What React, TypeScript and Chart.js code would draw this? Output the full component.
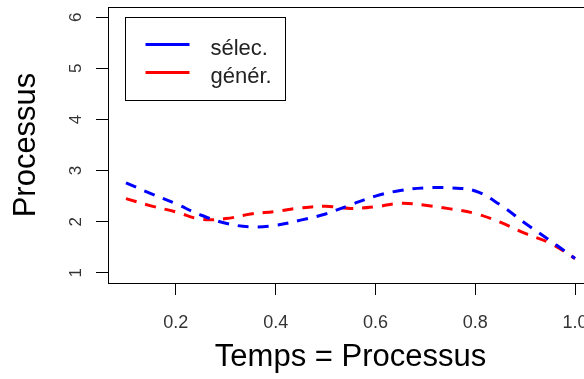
import React, { useEffect, useRef } from "react";
import { Chart, registerables } from "chart.js";

Chart.register(...registerables);

// ---- data ----
const times = [0.1, 0.15, 0.2, 0.25, 0.3, 0.35, 0.4, 0.45, 0.5, 0.55, 0.6, 0.65, 0.7, 0.75, 0.8, 0.85, 0.9, 0.95, 1.0];
const selec = [2.76, 2.55, 2.35, 2.13, 1.97, 1.9, 1.93, 2.03, 2.15, 2.33, 2.5, 2.61, 2.66, 2.66, 2.6, 2.33, 1.97, 1.63, 1.28];
const gener = [2.45, 2.31, 2.19, 2.05, 2.06, 2.15, 2.2, 2.27, 2.3, 2.26, 2.29, 2.36, 2.32, 2.25, 2.16, 1.99, 1.77, 1.58, 1.28];
const seriesLabels = ["sélec.", "génér."];
const seriesColors = ["#0000FF", "#FF0000"];
const xTickValues = [0.2, 0.4, 0.6, 0.8, 1.0];
const yTickValues = [1, 2, 3, 4, 5, 6];
const xTitle = "Temps = Processus";
const yTitle = "Processus";

const FONT = "'Liberation Sans', Arial, Helvetica, sans-serif";

const framePlugin = {
  id: "frame",
  afterDraw(chart: any) {
    const { ctx, chartArea: a } = chart;
    ctx.save();
    ctx.strokeStyle = "#000";
    ctx.lineWidth = 1;
    const l = Math.round(a.left) + 0.5;
    const t = Math.round(a.top) + 0.5;
    const r = Math.round(a.right) + 0.5;
    const b = Math.round(a.bottom) + 0.5;
    ctx.strokeRect(l, t, r - l, b - t);
    ctx.restore();
  },
};

const boxLegendPlugin = {
  id: "boxLegend",
  afterDraw(chart: any) {
    const { ctx, chartArea: a } = chart;
    const bx = Math.round(a.left) + 17.5;
    const by = Math.round(a.top) + 10.5;
    const bw = 160;
    const bh = 83;
    ctx.save();
    ctx.fillStyle = "#fff";
    ctx.fillRect(bx, by, bw, bh);
    ctx.strokeStyle = "#000";
    ctx.lineWidth = 1;
    ctx.strokeRect(bx, by, bw, bh);
    chart.data.datasets.forEach((ds: any, i: number) => {
      const y = by + 27 + i * 28;
      ctx.strokeStyle = ds.borderColor;
      ctx.lineWidth = 3;
      ctx.setLineDash([]);
      ctx.beginPath();
      ctx.moveTo(bx + 20, y);
      ctx.lineTo(bx + 64, y);
      ctx.stroke();
      ctx.fillStyle = "#222";
      ctx.font = `22px ${FONT}`;
      ctx.textBaseline = "alphabetic";
      ctx.textAlign = "left";
      ctx.fillText(ds.label, bx + 85, y + 10);
    });
    ctx.restore();
  },
};

export default function App() {
  const ref = useRef<HTMLCanvasElement | null>(null);

  useEffect(() => {
    if (!ref.current) return;
    const chart = new Chart(ref.current, {
      type: "line",
      data: {
        datasets: [selec, gener].map((vals, i) => ({
          label: seriesLabels[i],
          data: times.map((t, j) => ({ x: t, y: vals[j] })),
          borderColor: seriesColors[i],
          backgroundColor: seriesColors[i],
          borderWidth: 3,
          borderDash: [11, 9],
          pointRadius: 0,
          tension: 0.4,
          fill: false,
        })),
      },
      options: {
        animation: false,
        responsive: false,
        maintainAspectRatio: false,
        events: [],
        layout: { padding: { top: 7, right: 7, left: 0, bottom: 0 } },
        plugins: {
          legend: { display: false },
          tooltip: { enabled: false },
        },
        scales: {
          x: {
            type: "linear",
            min: 0.064,
            max: 1.036,
            afterBuildTicks: (s: any) => {
              s.ticks = xTickValues.map((v) => ({ value: v }));
            },
            afterFit: (s: any) => {
              s.height = 96;
              s.paddingLeft = 0;
              s.paddingRight = 0;
            },
            border: { display: false },
            grid: {
              drawOnChartArea: false,
              drawTicks: true,
              tickLength: 12,
              tickColor: "#000",
              color: "#000",
            },
            ticks: {
              padding: 17,
              color: "#333",
              maxRotation: 0,
              autoSkip: false,
              font: { family: FONT, size: 18 },
              callback: (v: any) => Number(v).toFixed(1),
            },
            title: {
              display: true,
              text: xTitle,
              color: "#000",
              font: { family: FONT, size: 31 },
              padding: { top: 0, bottom: 3 },
            },
          },
          y: {
            type: "linear",
            min: 0.8,
            max: 6.2,
            afterBuildTicks: (s: any) => {
              s.ticks = yTickValues.map((v) => ({ value: v }));
            },
            afterFit: (s: any) => {
              s.width = 108;
              s.paddingTop = 0;
              s.paddingBottom = 0;
            },
            border: { display: false },
            grid: {
              drawOnChartArea: false,
              drawTicks: true,
              tickLength: 12,
              tickColor: "#000",
              color: "#000",
            },
            ticks: {
              padding: 15,
              color: "#333",
              minRotation: 90,
              maxRotation: 90,
              crossAlign: "center",
              autoSkip: false,
              font: { family: FONT, size: 17 },
              callback: (v: any) => String(v),
            },
            title: {
              display: true,
              text: yTitle,
              color: "#000",
              font: { family: FONT, size: 31 },
              padding: { top: 8, bottom: 0 },
            },
          },
        },
      } as any,
      plugins: [framePlugin, boxLegendPlugin],
    });
    return () => chart.destroy();
  }, []);

  return (
    <div
      style={{
        position: "fixed",
        left: 0,
        top: 0,
        width: 584,
        height: 379,
        overflow: "hidden",
        background: "#fff",
      }}
    >
      <canvas ref={ref} width={600} height={379} style={{ display: "block", width: 600, height: 379 }} />
    </div>
  );
}
